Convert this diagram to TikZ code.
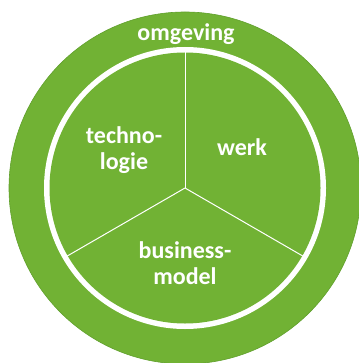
\documentclass[tikz,border=0pt]{standalone}
\usepackage{fontspec}
\setmainfont{Carlito}
\usetikzlibrary{calc}
\definecolor{leaf}{RGB}{113,178,52}
\definecolor{leafedge}{RGB}{96,160,44}
\tikzset{
  lbl/.style={text=white, font=\bfseries\fontsize{24}{26}\selectfont, align=center, inner sep=0pt},
  spoke/.style={draw=white, line width=1pt}
}
\begin{document}
\begin{tikzpicture}[x=1pt,y=-1pt]
\useasboundingbox (0,0) rectangle (358,363);
\fill[white] (0,0) rectangle (358,363);
\coordinate (c) at (185,188);
\fill[leaf, draw=leafedge, line width=0.6pt] (c) circle[radius=176];
\fill[white] (c) circle[radius=141];
\fill[leaf] (c) circle[radius=135.5];
\coordinate (ptop) at ($(c)+(0,-137)$);
\coordinate (pleft) at ($(c)+(-118.6,68.5)$);
\coordinate (pright) at ($(c)+(118.6,68.5)$);
\draw[spoke] (c) -- (ptop);
\draw[spoke] (c) -- (pleft);
\draw[spoke] (c) -- (pright);
\node[lbl] (omg) at (186,34) {omgeving};
\node[lbl] (tech) at (124,150) {techno-\\logie};
\node[lbl] (werk) at (242,147) {werk};
\node[lbl] (bm) at (185,263) {business-\\model};
\end{tikzpicture}
\end{document}
